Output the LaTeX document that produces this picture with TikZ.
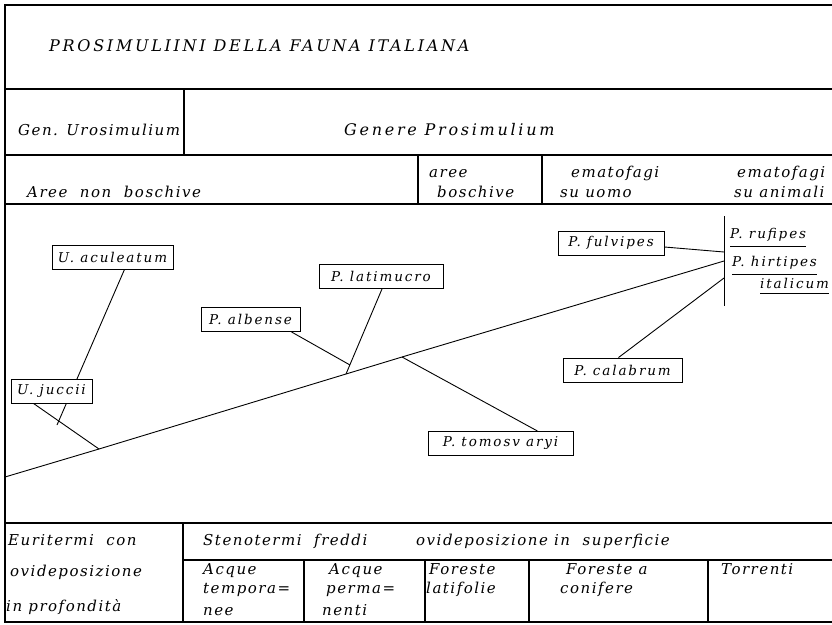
\documentclass[tikz,border=0pt]{standalone}
\usepackage{fontspec}
\usetikzlibrary{backgrounds}
\newfontfamily\fsp{DejaVu Serif}[LetterSpace=14]
\newfontfamily\ftx{DejaVu Serif}[LetterSpace=10]
\newfontfamily\fwd{DejaVu Serif}[LetterSpace=17]
\begin{document}
\begin{tikzpicture}[x=1pt,y=-1pt,
  frame/.style={line width=1.1pt},
  branch/.style={line width=0.9pt},
  spbox/.style={draw, fill=white, line width=0.9pt, inner sep=0pt, minimum height=24pt, font=\fsp\itshape\fontsize{13.5}{15}\selectfont},
  ulab/.style={inner sep=0pt, anchor=base west, font=\fsp\itshape\fontsize{13.5}{15}\selectfont},
  lab/.style={anchor=base west, inner sep=0pt, font=\ftx\itshape\fontsize{15}{17}\selectfont},
  wlab/.style={anchor=base west, inner sep=0pt, font=\fwd\itshape\fontsize{16}{18}\selectfont}]
\useasboundingbox (0,0) rectangle (832,624);
% frame and table lines
\coordinate (tl) at (5,5);
\coordinate (bl) at (5,622);
\draw[frame] (832,5) -- (tl) -- (bl) -- (832,622);
\draw[frame] (5,89) -- (832,89);
\draw[frame] (5,155) -- (832,155);
\draw[frame] (5,204) -- (832,204);
\draw[frame] (5,523) -- (832,523);
\draw[frame] (183,560) -- (832,560);
\draw[frame] (184,89) -- (184,155);
\draw[frame] (418,155) -- (418,204);
\draw[frame] (542,155) -- (542,204);
\draw[frame] (183,523) -- (183,622);
\draw[frame] (304,560) -- (304,622);
\draw[frame] (425,560) -- (425,622);
\draw[frame] (529,560) -- (529,622);
\draw[frame] (708,560) -- (708,622);
% header texts
\node[wlab] (title) at (49,51) {PROSIMULIINI DELLA FAUNA ITALIANA};
\node[lab] (gu) at (18,135) {Gen. Urosimulium};
\node[wlab] (gp) at (344,135) {Genere Prosimulium};
\node[lab] (anb) at (27,197) {Aree \ non \ boschive};
\node[lab] (ab1) at (429,177) {aree};
\node[lab] (ab2) at (437,197) {boschive};
\node[lab] (eu1) at (571,177) {ematofagi};
\node[lab] (eu2) at (560,197) {su uomo};
\node[lab] (ea1) at (737,177) {ematofagi};
\node[lab] (ea2) at (734,197) {su animali};
% bottom texts
\node[lab] (b1) at (8,545) {Euritermi \ con};
\node[lab] (b2) at (10,576) {ovideposizione};
\node[lab] (b3) at (6,611) {in profondità};
\node[lab] (b4) at (203,545) {Stenotermi \ freddi};
\node[lab] (b5) at (416,545) {ovideposizione in \ superficie};
\node[lab] (c1) at (203,574) {Acque};
\node[lab] (c2) at (203,593) {tempora=};
\node[lab] (c3) at (203,615) {nee};
\node[lab] (d1) at (329,574) {Acque};
\node[lab] (d2) at (326,593) {perma=};
\node[lab] (d3) at (322,615) {nenti};
\node[lab] (e1) at (429,574) {Foreste};
\node[lab] (e2) at (426,593) {latifolie};
\node[lab] (f1) at (566,574) {Foreste a};
\node[lab] (f2) at (560,593) {conifere};
\node[lab] (g1) at (721,574) {Torrenti};
% tree coordinates
\coordinate (root) at (5,477);
\coordinate (jU) at (99,449);
\coordinate (jUa) at (57,425);
\coordinate (jL) at (346,374);
\coordinate (jLa) at (350,365);
\coordinate (jT) at (402,357);
\coordinate (vtop) at (724,216);
\coordinate (vbot) at (724,306);
\coordinate (vF) at (724,252);
\coordinate (vM) at (724,261);
\coordinate (vC) at (724,278);
\draw[branch] (root) -- (jU) -- (jL) -- (jT) -- (vM);
\draw[branch] (vtop) -- (vbot);
% species boxes
\node[spbox, minimum width=121pt] (acu) at (112.5,257) {U. aculeatum};
\node[spbox, minimum width=81pt] (juc) at (51.5,391) {U. juccii};
\node[spbox, minimum width=99pt] (alb) at (250.5,319.5) {P. albense};
\node[spbox, minimum width=124pt] (lat) at (381,276.5) {P. latimucro};
\node[spbox, minimum width=145pt] (tom) at (500.5,443.5) {P. tomosv aryi};
\node[spbox, minimum width=106pt] (ful) at (611,243) {P. fulvipes};
\node[spbox, minimum width=119pt] (cal) at (622.5,370) {P. calabrum};
% branches (behind the boxes)
\begin{scope}[on background layer]
\draw[branch] ([xshift=-18pt]juc.south) -- (jU);
\draw[branch] ([xshift=12pt]acu.south) -- (jUa);
\draw[branch] ([xshift=1pt]lat.south) -- (jL);
\draw[branch] ([xshift=41pt]alb.south) -- (jLa);
\draw[branch] ([xshift=37pt]tom.north) -- (jT);
\draw[branch] ([yshift=-4pt]ful.east) -- (vF);
\draw[branch] ([xshift=-4pt]cal.north) -- (vC);
\end{scope}
% underlined names
\node[ulab, inner ysep=5pt] (ruf) at (730,238) {P. rufipes};
\node[ulab, inner ysep=5pt] (hir) at (732,266) {P. hirtipes};
\node[ulab, inner ysep=5pt] (ita) at (760,288) {italicum};
\draw[branch] (ruf.south west) -- (ruf.south east);
\draw[branch] (hir.south west) -- (hir.south east);
\draw[branch] (ita.south west) -- (ita.south east);
\end{tikzpicture}
\end{document}
